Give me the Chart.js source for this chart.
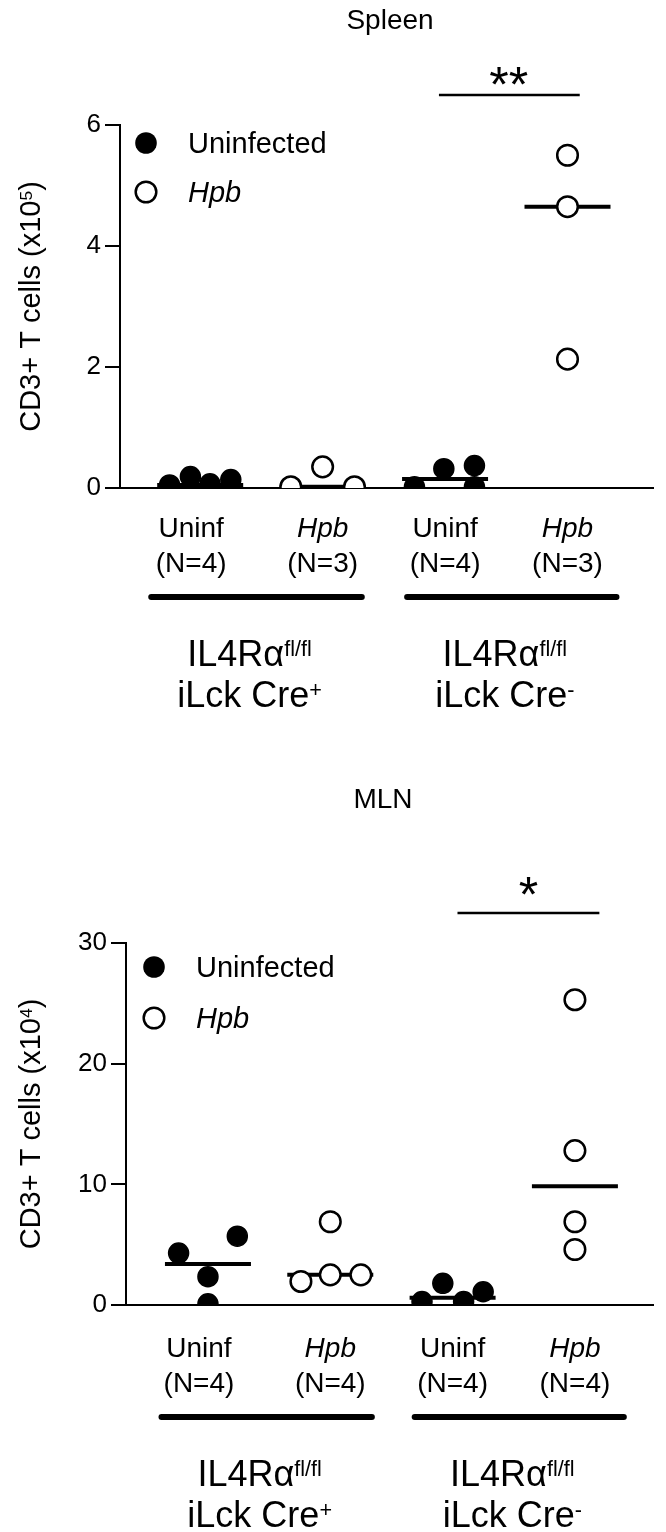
<!DOCTYPE html>
<html>
<head>
<meta charset="utf-8">
<script src="https://cdn.jsdelivr.net/npm/chart.js@4.4.0/dist/chart.umd.min.js"></script>
<style>
  body { margin: 0; background: #fff; }
  canvas { display: block; }
</style>
</head>
<body>
<canvas id="spleenChart" width="666" height="760"></canvas>
<canvas id="mlnChart" width="666" height="772"></canvas>
<script>
// ---- data ----
const groupNames = ["Uninf", "Hpb", "Uninf", "Hpb"];
const spleenN = ["(N=4)", "(N=3)", "(N=4)", "(N=3)"];
const mlnN = ["(N=4)", "(N=4)", "(N=4)", "(N=4)"];
const genotypes = ["IL4R\u03b1", "IL4R\u03b1"];
const genotypeSup = ["fl/fl", "fl/fl"];
const creLabels = ["iLck Cre", "iLck Cre"];
const creSup = ["+", "-"];

const spleenTicks = [0, 2, 4, 6];
const spleenUninfX = [0.75, 0.92, 1.08, 1.25, 2.75, 2.99, 3.24, 3.24];
const spleenUninfY = [0.05, 0.19, 0.07, 0.14, 0.02, 0.32, 0.37, 0.02];
const spleenHpbX = [1.74, 2.0, 2.26, 4.0, 4.0, 4.0];
const spleenHpbY = [0.02, 0.35, 0.02, 5.5, 4.65, 2.13];
const spleenMedians = [0.05, 0.02, 0.15, 4.65];

const mlnTicks = [0, 10, 20, 30];
const mlnUninfX = [0.76, 1.24, 1.0, 1.0, 2.75, 2.92, 3.09, 3.25];
const mlnUninfY = [4.3, 5.7, 2.35, 0.1, 0.28, 1.8, 0.28, 1.1];
const mlnHpbX = [1.76, 2.0, 2.25, 2.0, 4.0, 4.0, 4.0, 4.0];
const mlnHpbY = [1.95, 2.5, 2.5, 6.9, 25.3, 12.8, 6.9, 4.6];
const mlnMedians = [3.4, 2.5, 0.6, 9.85];

const FONT = '"Liberation Sans", Arial, Helvetica, sans-serif';

function font(size, style) {
  return (style ? style + " " : "") + size + "px " + FONT;
}

// draws text with optional superscript parts; y is the baseline
function drawRich(ctx, parts, x, y, size, align) {
  let total = 0;
  const list = parts.map((p) => {
    const s = p.sup ? size * 0.6 : size;
    ctx.font = font(s, p.italic ? "italic" : "");
    const w = ctx.measureText(p.t).width;
    total += w;
    return { t: p.t, sup: p.sup, italic: p.italic, s: s, w: w };
  });
  let cx = align === "center" ? x - total / 2 : x;
  ctx.textAlign = "left";
  ctx.textBaseline = "alphabetic";
  list.forEach((p) => {
    ctx.font = font(p.s, p.italic ? "italic" : "");
    const dy = p.sup ? -(size * 0.716 - p.s * 0.716) : 0;
    ctx.fillText(p.t, cx, y + dy);
    cx += p.w;
  });
}

const annotate = {
  id: "annotate",
  beforeDatasetsDraw(chart, args, o) {
    const ctx = chart.ctx;
    const xs = chart.scales.x;
    const ys = chart.scales.y;
    ctx.save();
    ctx.strokeStyle = "#000";
    ctx.lineWidth = 4;
    o.medians.forEach((m, i) => {
      const px = xs.getPixelForValue(i + 1);
      const py = ys.getPixelForValue(m);
      ctx.beginPath();
      ctx.moveTo(px - 43, py);
      ctx.lineTo(px + 43, py);
      ctx.stroke();
    });
    ctx.restore();
  },
  afterDraw(chart, args, o) {
    const ctx = chart.ctx;
    const area = chart.chartArea;
    const xs = chart.scales.x;
    ctx.save();
    ctx.fillStyle = "#000";
    ctx.strokeStyle = "#000";

    // title
    ctx.font = font(28);
    ctx.textAlign = "center";
    ctx.textBaseline = "middle";
    ctx.fillText(o.title, o.titleX, o.titleY);

    // legend
    const lx = area.left + o.legendDx;
    const ly1 = area.top + o.legendDy[0];
    const ly2 = area.top + o.legendDy[1];
    ctx.beginPath();
    ctx.arc(lx, ly1, 10.8, 0, Math.PI * 2);
    ctx.fill();
    ctx.beginPath();
    ctx.arc(lx, ly2, 10.3, 0, Math.PI * 2);
    ctx.lineWidth = 2.5;
    ctx.fillStyle = "#fff";
    ctx.fill();
    ctx.stroke();
    ctx.fillStyle = "#000";
    drawRich(ctx, [{ t: "Uninfected" }], area.left + o.legendTextDx, ly1 + 10, 29, "left");
    drawRich(ctx, [{ t: "Hpb", italic: true }], area.left + o.legendTextDx, ly2 + 10, 29, "left");

    // y axis title
    ctx.save();
    ctx.translate(30, (area.top + area.bottom) / 2);
    ctx.rotate(-Math.PI / 2);
    drawRich(ctx, [{ t: "CD3+ T cells (x10" }, { t: o.exponent, sup: true }, { t: ")" }], 0, 10, 29, "center");
    ctx.restore();

    // group labels under the axis
    groupNames.forEach((g, i) => {
      const px = xs.getPixelForValue(i + 1) + (i === 0 ? -9 : 0);
      drawRich(ctx, [{ t: g, italic: g === "Hpb" }], px, area.bottom + o.nameDy + 10, 28, "center");
      drawRich(ctx, [{ t: o.counts[i] }], px, area.bottom + o.nameDy + 45, 28, "center");
    });

    // genotype bars and labels
    ctx.lineWidth = 6;
    ctx.lineCap = "round";
    o.bars.forEach((b, i) => {
      const x1 = xs.getPixelForValue(b[0]);
      const x2 = xs.getPixelForValue(b[1]);
      const by = area.bottom + o.nameDy + 70;
      ctx.beginPath();
      ctx.moveTo(x1, by);
      ctx.lineTo(x2, by);
      ctx.stroke();
      const mid = (x1 + x2) / 2 - 7;
      drawRich(ctx, [{ t: genotypes[i] }, { t: genotypeSup[i], sup: true }], mid, area.bottom + o.nameDy + 139, 36, "center");
      drawRich(ctx, [{ t: creLabels[i] }, { t: creSup[i], sup: true }], mid, area.bottom + o.nameDy + 180, 36, "center");
    });

    // significance bar
    ctx.lineCap = "butt";
    ctx.lineWidth = 2.5;
    const sy = area.top - 30;
    ctx.beginPath();
    ctx.moveTo(xs.getPixelForValue(o.sig[0]), sy);
    ctx.lineTo(xs.getPixelForValue(o.sig[1]), sy);
    ctx.stroke();
    ctx.font = font(50);
    ctx.textAlign = "center";
    ctx.textBaseline = "alphabetic";
    ctx.fillText(o.stars, xs.getPixelForValue(o.starX), area.top + o.starDy + 29);

    ctx.restore();
  }
};

function buildChart(id, c) {
  return new Chart(document.getElementById(id), {
    type: "scatter",
    data: {
      datasets: [
        {
          label: "Uninfected",
          data: c.uninfX.map((x, i) => ({ x: x, y: c.uninfY[i] })),
          pointRadius: 10,
          pointBorderWidth: 1.5,
          pointBackgroundColor: "#000",
          pointBorderColor: "#000"
        },
        {
          label: "Hpb",
          data: c.hpbX.map((x, i) => ({ x: x, y: c.hpbY[i] })),
          pointRadius: 10.3,
          pointBorderWidth: 2.5,
          pointBackgroundColor: "#fff",
          pointBorderColor: "#000"
        }
      ]
    },
    options: {
      responsive: false,
      animation: false,
      devicePixelRatio: 1,
      layout: { padding: c.padding },
      plugins: {
        legend: { display: false },
        tooltip: { enabled: false },
        annotate: c
      },
      scales: {
        x: {
          type: "linear",
          min: c.xMin,
          max: c.xMax,
          z: 1,
          ticks: { display: false },
          grid: { display: false },
          border: { display: true, color: "#000", width: 2 },
          afterFit: (s) => { s.height = 0; }
        },
        y: {
          min: 0,
          max: c.ticks[c.ticks.length - 1],
          z: 1,
          afterBuildTicks: (s) => { s.ticks = c.ticks.map((v) => ({ value: v })); },
          ticks: { font: { family: FONT, size: 26 }, color: "#000", padding: 4 },
          grid: { display: true, drawOnChartArea: false, drawTicks: true, tickLength: 15, color: "#000", lineWidth: 2 },
          border: { display: true, color: "#000", width: 2 },
          afterFit: (s) => { s.width = c.yWidth; }
        }
      }
    },
    plugins: [annotate]
  });
}

buildChart("spleenChart", {
  uninfX: spleenUninfX, uninfY: spleenUninfY, hpbX: spleenHpbX, hpbY: spleenHpbY,
  medians: spleenMedians, ticks: spleenTicks, counts: spleenN,
  padding: { top: 125, bottom: 272, left: 0, right: 7 },
  yWidth: 120, xMin: 0.345, xMax: 4.7,
  title: "Spleen", titleX: 390, titleY: 21, exponent: "5",
  legendDx: 26, legendDy: [18, 67], legendTextDx: 68,
  nameDy: 39, bars: [[0.6, 2.32], [2.69, 4.4]],
  sig: [2.95, 4.1], stars: "**", starX: 3.52, starDy: -52
});

buildChart("mlnChart", {
  uninfX: mlnUninfX, uninfY: mlnUninfY, hpbX: mlnHpbX, hpbY: mlnHpbY,
  medians: mlnMedians, ticks: mlnTicks, counts: mlnN,
  padding: { top: 183, bottom: 227, left: 0, right: 6 },
  yWidth: 126, xMin: 0.33, xMax: 4.64,
  title: "MLN", titleX: 383, titleY: 40, exponent: "4",
  legendDx: 28, legendDy: [24, 75], legendTextDx: 70,
  nameDy: 42, bars: [[0.62, 2.34], [2.69, 4.4]],
  sig: [3.04, 4.2], stars: "*", starX: 3.62, starDy: -60
});
</script>
</body>
</html>
